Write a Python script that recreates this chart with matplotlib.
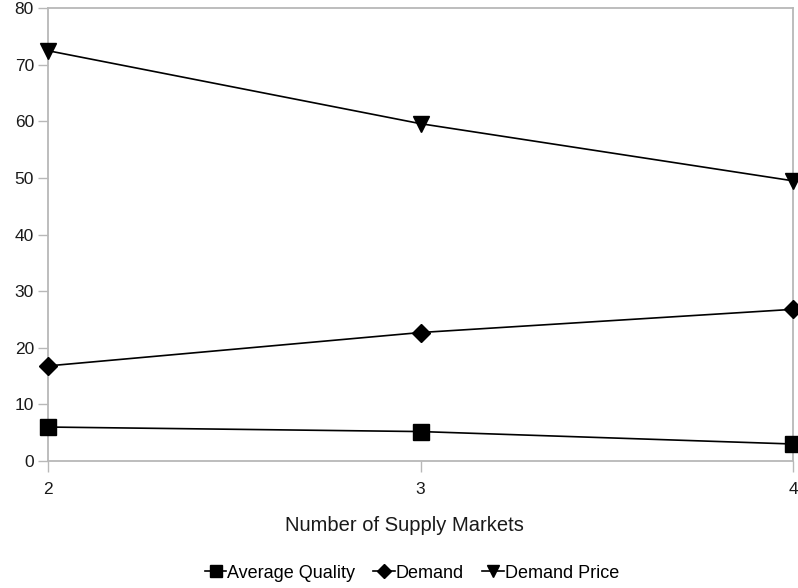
import matplotlib
matplotlib.use("Agg")
import matplotlib.pyplot as plt

plt.rcParams['font.family'] = ['Liberation Sans', 'DejaVu Sans']

markets = [2, 3, 4]
avg_quality = [6.0, 5.2, 3.0]
demand = [16.8, 22.7, 26.8]
demand_price = [72.5, 59.6, 49.5]

fig = plt.figure(figsize=(7.98, 5.88), dpi=100)
ax = fig.add_axes([0.060, 0.216, 0.934, 0.770])

ax.plot(markets, avg_quality, color='black', lw=1.2, marker='s', ms=12, label='Average Quality', clip_on=False, zorder=3)
ax.plot(markets, demand, color='black', lw=1.2, marker='D', ms=9, label='Demand', clip_on=False, zorder=3)
ax.plot(markets, demand_price, color='black', lw=1.2, marker='v', ms=12, label='Demand Price', clip_on=False, zorder=3)

ax.set_xlim(2, 4)
ax.set_ylim(0, 80)
ax.set_xticks(markets)
ax.set_yticks(range(0, 81, 10))
for s in ax.spines.values():
    s.set_color('#b8b8b8')
    s.set_linewidth(1.3)
ax.tick_params(colors='#b8b8b8', labelcolor='#1a1a1a', labelsize=12.5, width=1)
ax.tick_params(axis='y', length=7, pad=3)
ax.tick_params(axis='x', length=8, pad=7)
ax.set_xlabel('Number of Supply Markets', fontsize=14.5, color='#1a1a1a')
ax.xaxis.set_label_coords(0.478, -0.122)

leg = fig.legend(loc='center', bbox_to_anchor=(0.516, 0.025), ncol=3, frameon=False,
                 fontsize=13, handlelength=1.2, handletextpad=0.05, columnspacing=1.0,
                 markerscale=0.75)

fig.savefig('out.png', dpi=100)
